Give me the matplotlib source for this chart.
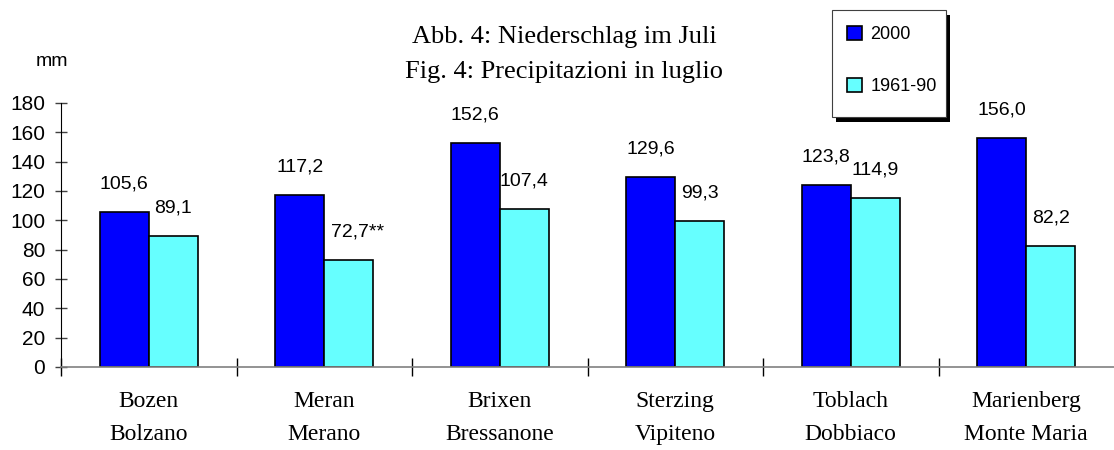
import numpy as np
import matplotlib.pyplot as plt
from matplotlib.ticker import FixedLocator
from matplotlib.patches import Rectangle

stations = ['Bozen\nBolzano', 'Meran\nMerano', 'Brixen\nBressanone',
            'Sterzing\nVipiteno', 'Toblach\nDobbiaco', 'Marienberg\nMonte Maria']
y2000 = [105.6, 117.2, 152.6, 129.6, 123.8, 156.0]
y6190 = [89.1, 72.7, 107.4, 99.3, 114.9, 82.2]
lab2000 = ['105,6', '117,2', '152,6', '129,6', '123,8', '156,0']
lab6190 = ['89,1', '72,7**', '107,4', '99,3', '114,9', '82,2']
yticks = [0, 20, 40, 60, 80, 100, 120, 140, 160, 180]

sans = 'Liberation Sans'
serif = 'Liberation Serif'
W, H = 1114, 450

fig = plt.figure(figsize=(11.14, 4.5), dpi=100)
ax = fig.add_axes([61/W, 1-367/H, (W-61)/W, 264/H])

x = np.arange(len(stations)) + 0.5
w = 0.28
b1 = ax.bar(x - w/2, y2000, w, color='#0000FF', edgecolor='black', linewidth=1.2, label='2000')
b2 = ax.bar(x + w/2, y6190, w, color='#66FFFF', edgecolor='black', linewidth=1.2, label='1961-90')

for xi, v, t in zip(x - w/2, y2000, lab2000):
    ax.annotate(t, (xi, v), xytext=(0, 17), textcoords='offset points',
                ha='center', va='baseline', fontsize=14, family=sans)
for xi, v, t in zip(x + w/2, y6190, lab6190):
    dx = 6 if t.endswith('**') else 0
    ax.annotate(t, (xi, v), xytext=(dx, 17), textcoords='offset points',
                ha='center', va='baseline', fontsize=14, family=sans)

ax.set_xlim(0, 6)
ax.set_ylim(0, 180)
ax.set_yticks(yticks)
ax.set_yticklabels([str(v) for v in yticks], fontsize=15, family=sans)
ax.tick_params(axis='y', direction='inout', length=9, width=1, color='#404040', pad=7)

ax.set_xticks(x)
ax.set_xticklabels(stations, fontsize=17, family=serif, linespacing=1.75)
ax.tick_params(axis='x', which='major', length=0, pad=17)
ax.xaxis.set_minor_locator(FixedLocator(np.arange(0, 6)))
ax.tick_params(axis='x', which='minor', direction='inout', length=13, width=1, color='black')

for s in ['top', 'right']:
    ax.spines[s].set_visible(False)
ax.spines['left'].set_color('black')
ax.spines['bottom'].set_color('#808080')
ax.spines['bottom'].set_linewidth(1.2)

fig.text(564/W, 1-43/H, 'Abb. 4: Niederschlag im Juli', ha='center', va='baseline',
         fontsize=19, family=serif)
fig.text(564/W, 1-78/H, 'Fig. 4: Precipitazioni in luglio', ha='center', va='baseline',
         fontsize=19, family=serif)
fig.text(52/W, 1-61/H, 'mm', ha='center', va='center', fontsize=14, family=sans)

# legend box with solid shadow
fig.patches.append(Rectangle((836/W, 1-122/H), 114/W, 107/H, transform=fig.transFigure,
                             facecolor='black', edgecolor='none', zorder=1))
fig.patches.append(Rectangle((832/W, 1-117/H), 114/W, 107/H, transform=fig.transFigure,
                             facecolor='white', edgecolor='#404040', linewidth=0.8, zorder=2))
leg = fig.legend(handles=[b1, b2], loc='upper left', bbox_to_anchor=(847/W, 1-26/H),
                 borderaxespad=0, borderpad=0, frameon=False,
                 prop={'family': sans, 'size': 13},
                 handlelength=0.85, handleheight=0.85, handletextpad=0.45,
                 labelspacing=1.9)
leg.set_zorder(3)

plt.savefig('out.png', dpi=100)
